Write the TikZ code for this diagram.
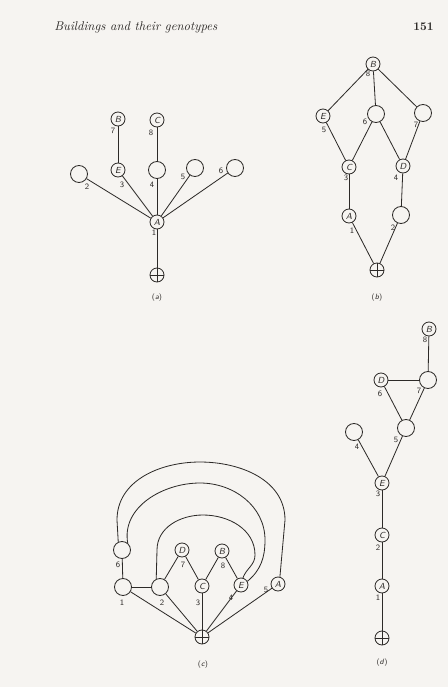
\documentclass[tikz,border=0pt]{standalone}
\usepackage{xcolor}
\usepackage{tikz}
\usetikzlibrary{positioning, calc}

\definecolor{paper}{RGB}{246,244,241}
\definecolor{ink}{RGB}{45,42,40}

\begin{document}
\begin{tikzpicture}[
      x=0.03cm, y=-0.03cm,
      line width=0.7pt,
      named/.style={circle, draw=ink, minimum size=4.2mm, inner sep=0pt,
                    font=\sffamily\itshape\fontsize{7.5}{7.5}\selectfont, text=ink},
      blank/.style={circle, draw=ink, minimum size=5.1mm, inner sep=0pt},
      outside/.style={circle, draw=ink, minimum size=4.2mm, inner sep=0pt,
                      path picture={\draw[ink]
                        (path picture bounding box.north) -- (path picture bounding box.south)
                        (path picture bounding box.west) -- (path picture bounding box.east);}},
      num/.style={font=\sffamily\fontsize{7}{7}\selectfont, text=ink, inner sep=0pt},
      subcap/.style={font=\sffamily\fontsize{6.5}{7}\selectfont, text=ink, inner sep=0pt},
      link/.style={draw=ink},
    ]
    % page: 448 x 687 px, y runs downwards
    \fill[paper] (0,0) rectangle (448,687);
    \useasboundingbox (0,0) rectangle (448,687);

    % running head
    \node[anchor=west, font=\itshape\fontsize{10.8}{12}\selectfont, text=ink] (head) at (50,27)
      {Buildings and their genotypes};
    \node[anchor=east, font=\bfseries\fontsize{10}{12}\selectfont, text=ink] (page) at (438,27) {151};

    % ---------------- (a) ----------------
    \node[named] (aB) at (118,119) {B};
    \node[named] (aC) at (157,120) {C};
    \node[blank] (a2) at (79,174) {};
    \node[named] (aE) at (118,170) {E};
    \node[blank] (a4) at (157,170) {};
    \node[blank] (a5) at (195,168) {};
    \node[blank] (a6) at (235,168) {};
    \node[named] (aA) at (157,222) {A};
    \node[outside] (aO) at (157,275) {};
    \draw[link] (aB) -- (aE);
    \draw[link] (aC) -- (a4);
    \foreach \n in {a2,aE,a4,a5,a6}
      \draw[link] (aA) -- (\n);
    \draw[link] (aA) -- (aO);
    \foreach \t/\x/\y in {7/113/131, 8/151/133, 2/87/187, 3/122/185,
                          4/152/185, 5/183/177, 6/221/171, 1/154/233}
      \node[num] (la\t) at (\x,\y) {\t};
    \node[subcap] (capa) at (157,298) {(\textit{a})};

    % ---------------- (b) ----------------
    \node[named] (bB) at (373,64) {B};
    \node[named] (bE) at (323,116) {E};
    \node[blank] (b6) at (376,114) {};
    \node[blank] (b7) at (423,113) {};
    \node[named] (bC) at (349,167) {C};
    \node[named] (bD) at (403,166) {D};
    \node[named] (bA) at (349,216) {A};
    \node[blank] (b2) at (401,215) {};
    \node[outside] (bO) at (377,270) {};
    \foreach \u/\v in {bB/bE, bB/b6, bB/b7, bE/bC, b6/bC, b6/bD, b7/bD,
                       bC/bA, bD/b2, bA/bO, b2/bO}
      \draw[link] (\u) -- (\v);
    \foreach \t/\x/\y in {8/368/74, 5/324/130, 6/365/122, 7/416/125,
                          3/346/178, 4/396/178, 1/352/231, 2/393/228}
      \node[num] (lb\t) at (\x,\y) {\t};
    \node[subcap] (capb) at (377,298) {(\textit{b})};

    % ---------------- (c) ----------------
    \node[blank] (c6) at (122,550) {};
    \node[blank] (c1) at (123,587) {};
    \node[blank] (c2) at (160,587) {};
    \node[named] (cD) at (182,550) {D};
    \node[named] (cB) at (222,551) {B};
    \node[named] (cC) at (202,586) {C};
    \node[named] (cE) at (241,585) {E};
    \node[named] (cA) at (278,584) {A};
    \node[outside] (cO) at (202,637) {};
    \foreach \u/\v in {c6/c1, c1/c2, c2/cD, cD/cC, cC/cB, cB/cE,
                       c1/cO, c2/cO, cC/cO, cE/cO, cA/cO}
      \draw[link] (\u) -- (\v);
    % the three arches
    \draw[link] (c6.115) -- (117,520) to[out=90,in=180] (200,462)
      to[out=0,in=90] (285,520) -- (cA.75);
    \draw[link] (c6.50) to[out=100,in=180] (200,483)
      to[out=0,in=90] (265,540) to[out=-90,in=40] (cE.30);
    \draw[link] (c2.115) -- (157,550) to[out=90,in=180] (203,515)
      to[out=0,in=90] (255,555) to[out=-90,in=70] (cE.75);
    \foreach \t/\x/\y in {6/118/565, 1/122/603, 2/162/603, 3/198/603,
                          4/231/598, 5/266/590, 7/183/565, 8/223/566}
      \node[num] (lc\t) at (\x,\y) {\t};
    \node[subcap] (capc) at (203,665) {(\textit{c})};

    % ---------------- (d) ----------------
    \node[named] (dB) at (429,329) {B};
    \node[named] (dD) at (381,380) {D};
    \node[blank] (d7) at (428,380) {};
    \node[blank] (d5) at (406,428) {};
    \node[blank] (d4) at (354,432) {};
    \node[named] (dE) at (382,483) {E};
    \node[named] (dC) at (382,535) {C};
    \node[named] (dA) at (382,586) {A};
    \node[outside] (dO) at (382,638) {};
    \foreach \u/\v in {dB/d7, dD/d7, dD/d5, d7/d5, d5/dE, d4/dE,
                       dE/dC, dC/dA, dA/dO}
      \draw[link] (\u) -- (\v);
    \foreach \t/\x/\y in {8/425/340, 6/380/394, 7/419/391, 5/396/440,
                          4/357/447, 3/378/494, 2/378/548, 1/378/598}
      \node[num] (ld\t) at (\x,\y) {\t};
    \node[subcap] (capd) at (382,663) {(\textit{d})};
  \end{tikzpicture}
\end{document}
